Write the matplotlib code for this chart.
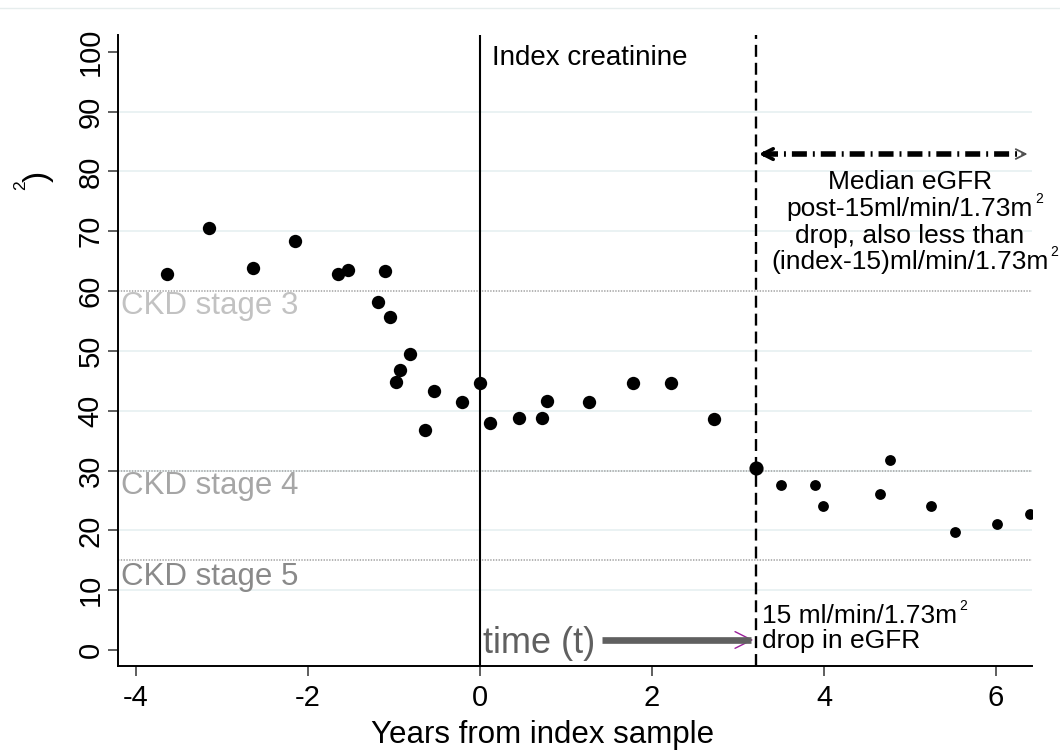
import matplotlib
matplotlib.use('Agg')
import matplotlib.pyplot as plt
from matplotlib.lines import Line2D

plt.rcParams['font.family'] = ['Liberation Sans', 'DejaVu Sans']
plt.rcParams['axes.unicode_minus'] = False
plt.rcParams['lines.scale_dashes'] = False

# ---------------- data ----------------
pre_x = [-3.64, -3.15, -2.64, -2.15, -1.65, -1.53, -1.19, -1.10, -1.05, -0.98,
         -0.93, -0.81, -0.64, -0.53, -0.21, 0.00, 0.12, 0.45, 0.72, 0.78,
         1.27, 1.78, 2.22, 2.72]
pre_y = [62.8, 70.6, 63.8, 68.4, 62.9, 63.5, 58.1, 63.4, 55.6, 44.8,
         46.8, 49.5, 36.8, 43.3, 41.5, 44.6, 38.0, 38.8, 38.8, 41.6,
         41.5, 44.7, 44.6, 38.6]
drop_x = [3.21]
drop_y = [30.5]
post_x = [3.50, 3.90, 3.99, 4.65, 4.77, 5.24, 5.52, 6.01, 6.39]
post_y = [27.6, 27.5, 24.0, 26.0, 31.7, 24.1, 19.7, 21.0, 22.7]

median_y = 82.9
stage_levels = [60, 30, 15]
stage_labels = ['CKD stage 3', 'CKD stage 4', 'CKD stage 5']
stage_label_y = [57.5, 27.4, 12.2]
stage_colors = ['#c2c2c2', '#a6a6a6', '#8a8a8a']

x_ticks = [-4, -2, 0, 2, 4, 6]
x_ticklabels = ['-4', '-2', '0', '2', '4', '6']
y_ticks = [0, 10, 20, 30, 40, 50, 60, 70, 80, 90, 100]
grid_y = [10, 20, 30, 40, 50, 70, 80, 90]

# (text, has superscript 2)
median_lines = [('Median eGFR', False), ('post-15ml/min/1.73m', True),
                ('drop, also less than', False), ('(index-15)ml/min/1.73m', True)]
median_line_y = [77.1, 72.6, 68.1, 63.7]

# ---------------- figure ----------------
fig = plt.figure(figsize=(10.6, 7.54), dpi=100)
ax = fig.add_axes([118/1060, 88/754, 914/1060, 631/754])
xmin, xmax = -4.209, 6.419
ax.set_xlim(xmin, xmax)
ax.set_ylim(-2.68, 102.8)

fig.add_artist(Line2D([0, 1], [1 - 8/754, 1 - 8/754], color='#e6eded', lw=1,
                      transform=fig.transFigure))

for g in grid_y:
    ax.axhline(g, color='#eaf2f3', lw=1.4, zorder=0)
for lev in stage_levels:
    ax.axhline(lev, color='#a8a8a8', lw=1.2, linestyle=(0, (1.0, 1.0)), zorder=1)
for lab, ly, c in zip(stage_labels, stage_label_y, stage_colors):
    ax.text(xmin + 0.03, ly, lab, fontsize=22.5, color=c, ha='left', va='center')

ax.axvline(0, color='black', lw=1.5, zorder=2)
x_drop = drop_x[0]
ax.axvline(x_drop, color='black', lw=1.7, linestyle=(0, (8.6, 4.3)), zorder=2)

ax.plot(pre_x, pre_y, 'o', color='black', ms=9.6, mew=0, zorder=4)
ax.plot(drop_x, drop_y, 'o', color='black', ms=10.2, mew=0, zorder=4)
ax.plot(post_x, post_y, 'o', color='black', ms=7.8, mew=0, zorder=4)

# median double arrow
ax.plot([x_drop + 0.08, xmax - 0.1], [median_y, median_y], color='black', lw=4,
        linestyle=(0, (10.8, 4.3, 1.4, 4.3)), dash_capstyle='butt',
        solid_capstyle='butt', zorder=3)
ax.annotate('', xy=(x_drop, median_y), xytext=(x_drop + 0.16, median_y),
            arrowprops=dict(arrowstyle='->,head_length=0.75,head_width=0.38',
                            color='black', lw=2.6), zorder=3)
ax.annotate('', xy=(xmax - 0.02, median_y), xytext=(xmax - 0.15, median_y),
            arrowprops=dict(arrowstyle='->,head_length=0.7,head_width=0.35',
                            color='#505050', lw=1.3), zorder=3)

sup_targets = []
for (t, has_sup), ty in zip(median_lines, median_line_y):
    tx = ax.text(5.0, ty, t, fontsize=19, ha='center', va='baseline', color='black')
    if has_sup:
        sup_targets.append((tx, ty))

# time arrow
time_y = 1.67
ax.annotate('', xy=(x_drop, time_y), xytext=(x_drop - 0.12, time_y),
            arrowprops=dict(arrowstyle='->,head_length=1.2,head_width=0.6',
                            color='#9a1f9a', lw=1.0), zorder=3)
ax.plot([1.415, x_drop - 0.06], [time_y, time_y], color='#606060', lw=4.8,
        solid_capstyle='butt', zorder=3.5)
ax.text(0.035, -0.5, 'time (t)', fontsize=26, color='#606060', ha='left',
        va='baseline')

t15 = ax.text(3.28, 4.5, '15 ml/min/1.73m', fontsize=19, ha='left', va='baseline')
sup_targets.append((t15, 4.5))
ax.text(3.28, 0.33, 'drop in eGFR', fontsize=19, ha='left', va='baseline')
ax.text(0.14, 97.8, 'Index creatinine', fontsize=20, ha='left', va='baseline')

for s in ['top', 'right']:
    ax.spines[s].set_visible(False)
for s in ['left', 'bottom']:
    ax.spines[s].set_linewidth(1.4)
    ax.spines[s].set_color('black')
ax.set_xticks(x_ticks)
ax.set_xticklabels(x_ticklabels)
ax.set_yticks(y_ticks)
ax.tick_params(axis='both', direction='out', length=7.2, width=1.1,
               color='#333333', labelsize=21, labelcolor='black')
ax.tick_params(axis='x', pad=6)
ax.tick_params(axis='y', pad=2.5)
plt.setp(ax.get_yticklabels(), rotation=90, va='center')

fig.text(543/1060, 1 - 735/754, 'Years from index sample', fontsize=22.5,
         ha='center', va='center')

# truncated y-axis title remnant
fig.text(38/1060, 1 - 176/754, ')', fontsize=24, rotation=90,
         ha='center', va='center')
fig.text(21/1060, 1 - 185/754, '2', fontsize=12.5, rotation=90,
         ha='center', va='center')

# small raised superscripts after text
fig.canvas.draw()
renderer = fig.canvas.get_renderer()
for tx, ty in sup_targets:
    bb = tx.get_window_extent(renderer)
    base_px = ax.transData.transform((0, ty))[1]
    fig.text(bb.x1 + 2, base_px + 13, '2', fontsize=10, ha='left', va='baseline',
             transform=None)

fig.savefig('out.png', dpi=100)
